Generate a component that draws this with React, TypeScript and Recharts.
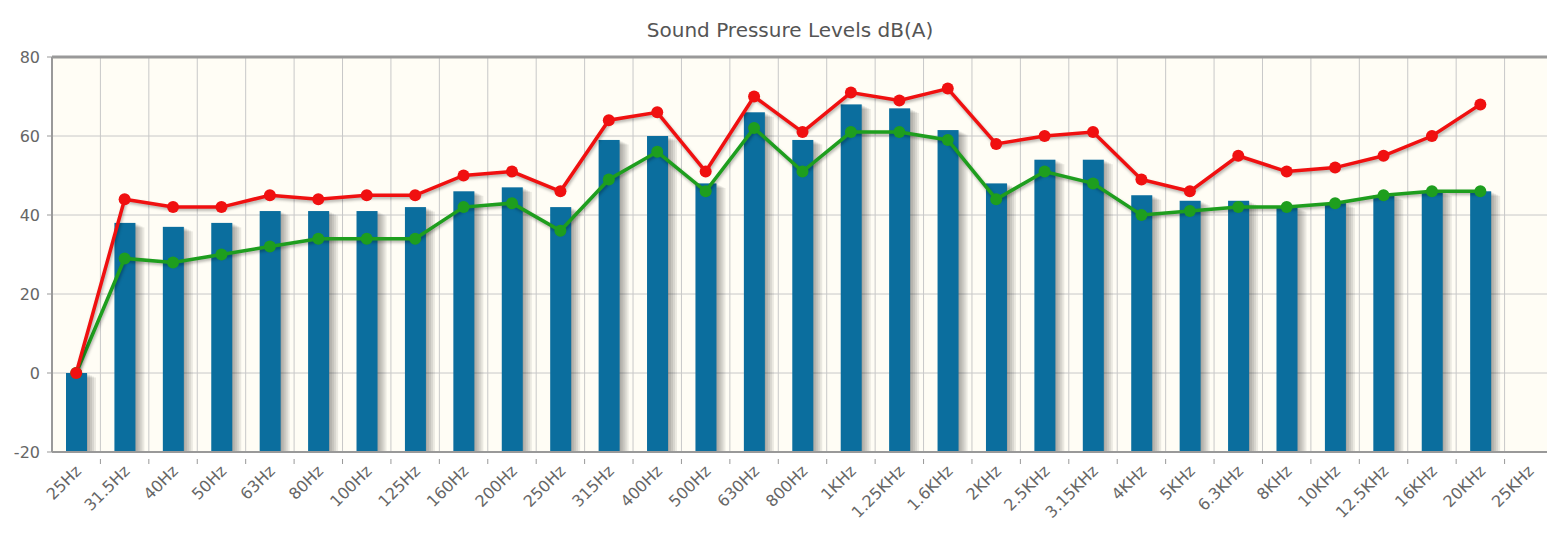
import React from 'react';
import { ComposedChart, Bar, Line, XAxis, YAxis, CartesianGrid, ReferenceLine } from 'recharts';

const categories = [
  '25Hz', '31.5Hz', '40Hz', '50Hz', '63Hz', '80Hz', '100Hz', '125Hz', '160Hz', '200Hz',
  '250Hz', '315Hz', '400Hz', '500Hz', '630Hz', '800Hz', '1KHz', '1.25KHz', '1.6KHz', '2KHz',
  '2.5KHz', '3.15KHz', '4KHz', '5KHz', '6.3KHz', '8KHz', '10KHz', '12.5KHz', '16KHz', '20KHz', '25KHz',
];

const barValues = [
  0, 38, 37, 38, 41, 41, 41, 42, 46, 47,
  42, 59, 60, 48, 66, 59, 68, 67, 61.5, 48,
  54, 54, 45, 43.6, 43.6, 42, 43, 45, 46, 46, null,
];

const redValues = [
  0, 44, 42, 42, 45, 44, 45, 45, 50, 51,
  46, 64, 66, 51, 70, 61, 71, 69, 72, 58,
  60, 61, 49, 46, 55, 51, 52, 55, 60, 68, null,
];

const greenValues = [
  0, 29, 28, 30, 32, 34, 34, 34, 42, 43,
  36, 49, 56, 46, 62, 51, 61, 61, 59, 44,
  51, 48, 40, 41, 42, 42, 43, 45, 46, 46, null,
];

const yTicks = [-20, 0, 20, 40, 60, 80];

const data = categories.map((name, i) => ({
  name,
  bar: barValues[i],
  red: redValues[i],
  green: greenValues[i],
}));

const CHART_W = 1553;
const LEFT = 52;
const BAND = (CHART_W - LEFT) / categories.length;
const FONT = '"DejaVu Sans", Verdana, sans-serif';

// bar with a soft jqPlot-like shadow to the right
const ShadowBar = (props: any) => {
  const { x, y, width, height } = props;
  if (height == null || isNaN(height) || height <= 0) return null;
  return (
    <g>
      {[9, 7, 5, 3, 1].map(o => (
        <rect key={o} x={x + o} y={y + o / 2} width={width} height={height - o / 2} fill="rgba(0,0,0,0.08)" />
      ))}
      <rect x={x} y={y} width={width} height={height} fill="#0B6E9E" />
    </g>
  );
};

const XTick = (props: any) => {
  const { x, y, payload } = props;
  return (
    <g>
      <line x1={x + BAND / 2} y1={y - 1} x2={x + BAND / 2} y2={y + 4} stroke="#999" />
      <text
        x={x + 6}
        y={y + 12}
        transform={`rotate(-45, ${x + 6}, ${y + 12})`}
        textAnchor="end"
        fill="#666"
        fontSize={16}
        fontFamily={FONT}
      >
        {payload.value}
      </text>
    </g>
  );
};

export default function App() {
  return (
    <div style={{ width: 1547, height: 533, overflow: 'hidden', position: 'relative', background: '#fff' }}>
      <style>{`
        body { margin: 0; }
        .line-shadow { filter: drop-shadow(1.5px 2px 1.5px rgba(0,0,0,0.3)); }
      `}</style>
      <div
        style={{
          position: 'absolute',
          left: 0,
          width: 1580,
          top: 17,
          textAlign: 'center',
          fontFamily: FONT,
          fontSize: 20,
          color: '#555',
          lineHeight: '26px',
        }}
      >
        Sound Pressure Levels dB(A)
      </div>
      <ComposedChart
        width={CHART_W}
        height={533}
        data={data}
        margin={{ top: 57, right: 0, bottom: 0, left: 0 }}
        barCategoryGap={0}
      >
        <CartesianGrid
          fill="#FFFDF5"
          stroke="#c8c8c8"
          strokeDasharray=""
          verticalCoordinatesGenerator={({ offset }: any) =>
            categories.map((_, i) => offset.left + i * (offset.width / categories.length))
          }
        />
        <XAxis
          dataKey="name"
          interval={0}
          tickLine={false}
          axisLine={{ stroke: '#999', strokeWidth: 2 }}
          tick={<XTick />}
          height={81}
        />
        <YAxis
          domain={[-20, 80]}
          ticks={yTicks}
          width={LEFT}
          allowDataOverflow
          axisLine={{ stroke: '#999', strokeWidth: 2 }}
          tickLine={{ stroke: '#999' }}
          tickSize={5}
          tickMargin={7}
          tick={{ fill: '#666', fontSize: 16, fontFamily: FONT }}
        />
        <ReferenceLine y={80} stroke="#999" strokeWidth={3} />
        <Bar
          dataKey={(d: any) => (d.bar == null ? null : [-20, d.bar])}
          barSize={21}
          shape={<ShadowBar />}
          isAnimationActive={false}
        />
        <Line
          className="line-shadow"
          type="linear"
          dataKey="green"
          stroke="#1E9E1E"
          strokeWidth={3.5}
          dot={{ r: 6, fill: '#1E9E1E', stroke: 'none' }}
          activeDot={false}
          isAnimationActive={false}
        />
        <Line
          className="line-shadow"
          type="linear"
          dataKey="red"
          stroke="#F01010"
          strokeWidth={3.5}
          dot={{ r: 6, fill: '#F01010', stroke: 'none' }}
          activeDot={false}
          isAnimationActive={false}
        />
      </ComposedChart>
    </div>
  );
}
